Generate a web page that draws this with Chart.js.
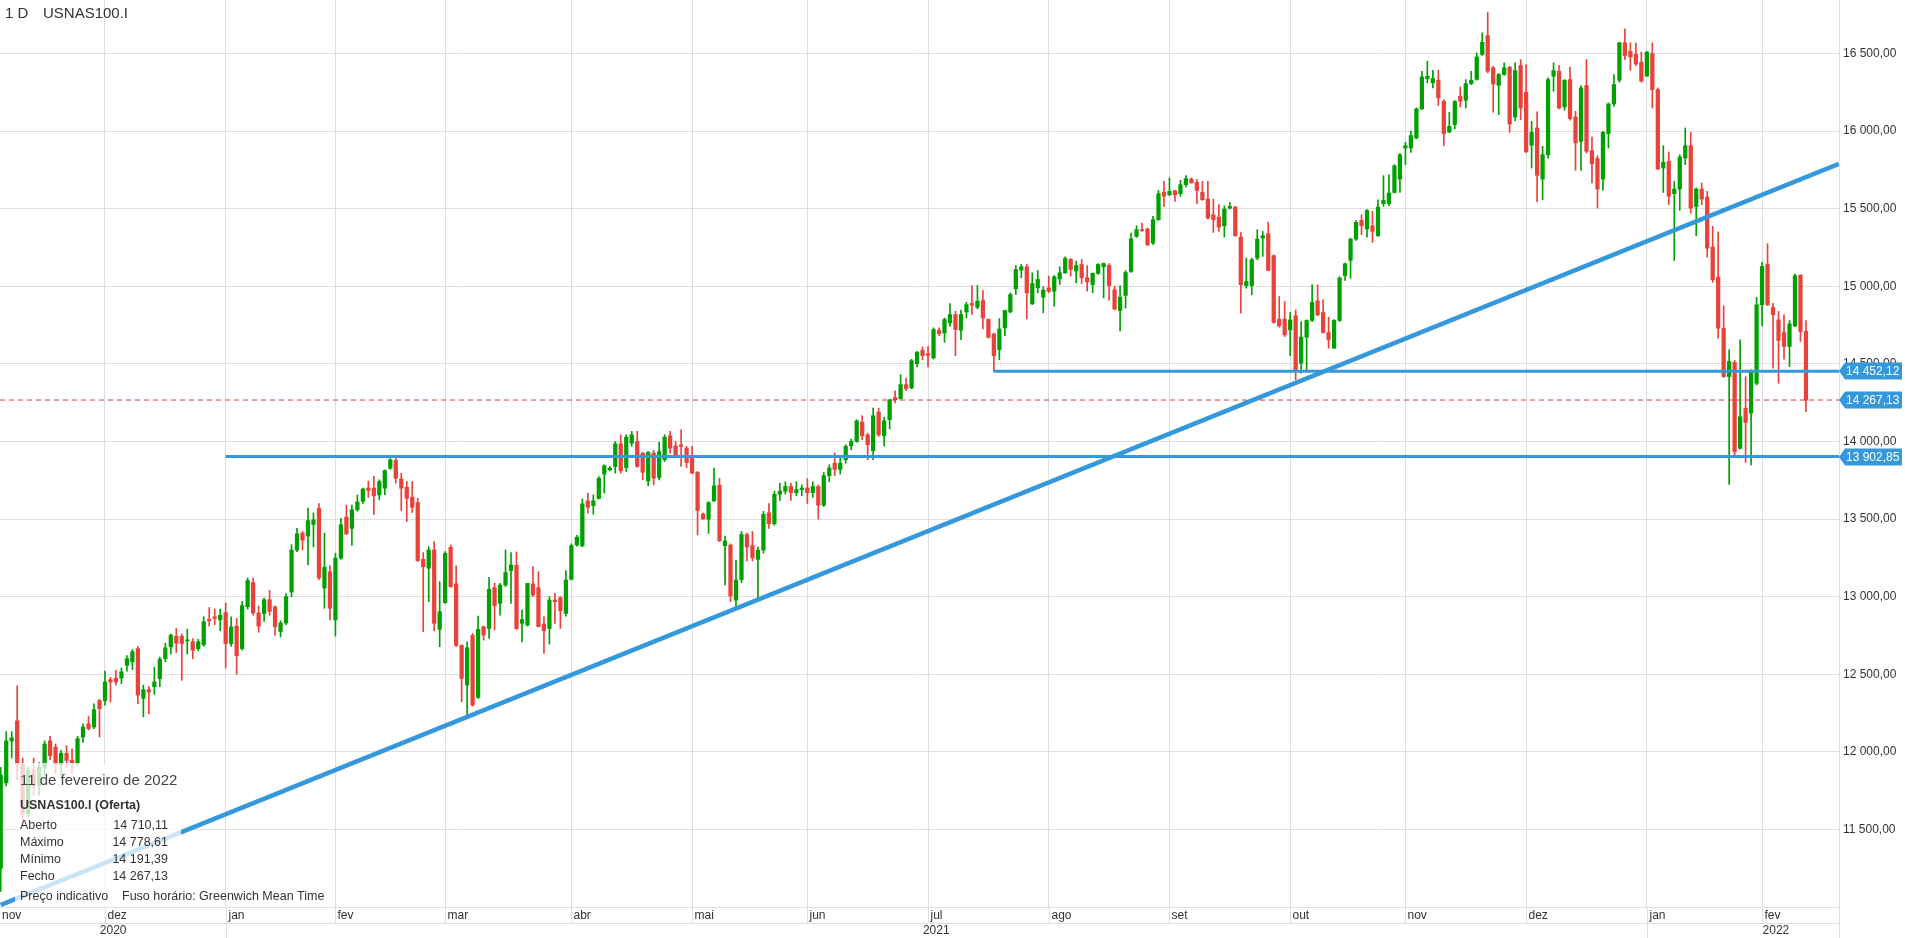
<!DOCTYPE html>
<html lang="pt">
<head>
<meta charset="UTF-8">
<title>USNAS100.I - 1 D</title>
<script src="https://cdn.jsdelivr.net/npm/chart.js"></script>
<style>
  html, body { margin: 0; padding: 0; background: #fff; overflow: hidden; }
  canvas { display: block; }
</style>
</head>
<body>
<canvas id="chart" width="1905" height="938"></canvas>
<script>
// USNAS100.I daily candles, one entry per session, 4 Nov 2020 .. 11 Feb 2022
const opens = [
  11250, 11800, 12070, 12200, 11920, 11600, 11880, 11780, 11900, 12070,
  12030, 11920, 11990, 11945, 11930, 12095, 12180, 12160, 12330, 12330,
  12465, 12475, 12475, 12558, 12580, 12665, 12345, 12400, 12420, 12472,
  12600, 12677, 12745, 12745, 12715, 12710, 12665, 12690, 12855, 12870,
  12850, 12897, 12698, 12810, 12665, 12935, 13090, 12895, 12890, 12980,
  12935, 12775, 12830, 13030, 13300, 13410, 13390, 13465, 13570, 13055,
  13160, 12850, 13248, 13513, 13440, 13560, 13615, 13700, 13700, 13656,
  13699, 13828, 13877, 13759, 13705, 13641, 13606, 13241, 13183, 13301,
  12789, 12961, 13318, 13082, 12686, 12430, 12750, 12350, 12806, 12795,
  13058, 12957, 13075, 13168, 13202, 12828, 12817, 13082, 13058, 12823,
  12795, 12978, 12993, 12892, 13112, 13333, 13327, 13617, 13587, 13632,
  13789, 13817, 13839, 13985, 13832, 13989, 14000, 13925, 13746, 13925,
  13768, 13882, 14037, 13972, 13978, 13957, 13907, 13802, 13533, 13499,
  13617, 13718, 13329, 13333, 12978, 13110, 13400, 13330, 13240, 13300,
  13540, 13470, 13660, 13680, 13710, 13670, 13690, 13700, 13670, 13710,
  13590, 13780, 13860, 13820, 13882, 13972, 14000, 14125, 14043, 13940,
  14189, 14037, 14140, 14284, 14276, 14366, 14344, 14501, 14588, 14566,
  14538, 14717, 14699, 14764, 14818, 14717, 14835, 14889, 14865, 14908,
  14786, 14693, 14592, 14732, 14835, 14984, 15104, 15126, 14887, 14990,
  14930, 14990, 14968, 15048, 15087, 15173, 15098, 15141, 15055, 15011,
  15083, 15126, 15134, 14977, 14844, 14941, 15096, 15322, 15365, 15369,
  15279, 15429, 15605, 15590, 15616, 15597, 15655, 15691, 15670, 15605,
  15562, 15461, 15446, 15390, 15504, 15511, 15317, 15005, 15005, 15182,
  15311, 15339, 15197, 14788, 14788, 14719, 14810, 14504, 14672, 14780,
  14906, 14831, 14702, 14601, 14780, 15068, 15167, 15304, 15425, 15369,
  15390, 15326, 15532, 15532, 15605, 15691, 15891, 15891, 15956, 16143,
  16337, 16311, 16328, 16192, 15994, 16042, 16225, 16199, 16306, 16333,
  16494, 16616, 16408, 16296, 16365, 16412, 16091, 16423, 16251, 15909,
  16020, 15691, 15848, 16354, 16386, 16156, 16332, 16091, 15934, 16294,
  15874, 15823, 15691, 15984, 16175, 16328, 16569, 16515, 16494, 16444,
  16354, 16500, 16268, 15762, 15805, 15597, 15627, 15827, 15906, 15515,
  15627, 15575, 15253, 15059, 14730, 14418, 14509, 13956, 14214, 14182,
  14375, 14881, 15143, 14863, 14784, 14702, 14612, 14745, 15072, 14710.11
];
const highs = [
  11900, 12130, 12130, 12425, 11960, 11900, 11960, 11930, 12070, 12100,
  12050, 12010, 12040, 12020, 12100, 12180, 12230, 12310, 12340, 12520,
  12480, 12525, 12540, 12620, 12660, 12680, 12430, 12420, 12545, 12610,
  12700, 12760, 12795, 12760, 12790, 12730, 12725, 12870, 12930, 12920,
  12920, 12960, 12870, 12860, 12970, 13120, 13120, 12940, 12990, 13040,
  12940, 12845, 13020, 13335, 13440, 13420, 13571, 13540, 13600, 13410,
  13200, 13280, 13505, 13590, 13590, 13655, 13700, 13745, 13775, 13753,
  13817, 13890, 13903, 13796, 13742, 13742, 13634, 13284, 13322, 13355,
  13097, 13290, 13333, 13198, 12690, 12709, 12763, 12875, 12810, 13125,
  13086, 13086, 13301, 13284, 13288, 12914, 13086, 13193, 13161, 12871,
  13000, 13021, 13000, 13168, 13340, 13395, 13630, 13667, 13656, 13774,
  13850, 13840, 14000, 14043, 14043, 14065, 14065, 13929, 13935, 13942,
  13994, 14043, 14065, 14000, 14075, 13968, 13968, 13806, 13538, 13613,
  13828, 13763, 13391, 13340, 13236, 13420, 13410, 13420, 13320, 13550,
  13600, 13680, 13730, 13740, 13730, 13740, 13720, 13760, 13740, 13720,
  13800, 13850, 13925, 13900, 13979, 14015, 14140, 14166, 14054, 14215,
  14215, 14157, 14273, 14327, 14430, 14409, 14530, 14581, 14609, 14613,
  14732, 14732, 14796, 14889, 14839, 14846, 14897, 15005, 15005, 14973,
  14790, 14699, 14792, 14846, 14958, 15134, 15141, 15141, 15087, 15102,
  14996, 15065, 15070, 15126, 15190, 15179, 15162, 15173, 15134, 15087,
  15147, 15150, 15147, 14999, 15003, 15102, 15343, 15390, 15407, 15375,
  15451, 15618, 15676, 15698, 15618, 15683, 15713, 15698, 15687, 15676,
  15676, 15562, 15526, 15519, 15541, 15515, 15347, 15182, 15182, 15365,
  15354, 15414, 15203, 14934, 14902, 14831, 14848, 14773, 14784, 15010,
  15010, 14913, 14801, 14785, 15063, 15150, 15311, 15425, 15461, 15494,
  15483, 15558, 15713, 15719, 15784, 15855, 15928, 16000, 16150, 16386,
  16451, 16392, 16392, 16203, 16122, 16197, 16285, 16332, 16386, 16504,
  16633, 16767, 16418, 16372, 16440, 16418, 16440, 16461, 16429, 16063,
  16124, 15902, 16343, 16440, 16423, 16332, 16412, 16128, 16294, 16461,
  15962, 15842, 15999, 16182, 16365, 16573, 16659, 16569, 16569, 16509,
  16515, 16569, 16279, 15906, 15866, 15676, 15848, 16020, 15992, 15634,
  15666, 15612, 15386, 15350, 14874, 14590, 14522, 14655, 14418, 14462,
  14928, 15154, 15274, 14891, 14838, 14816, 14780, 15081, 15075, 14778.61
];
const lows = [
  11100, 11780, 11960, 11820, 11520, 11580, 11720, 11720, 11850, 11950,
  11860, 11850, 11900, 11860, 11910, 12060, 12140, 12150, 12095, 12300,
  12320, 12430, 12440, 12520, 12530, 12310, 12225, 12245, 12370, 12420,
  12580, 12630, 12640, 12461, 12630, 12600, 12650, 12680, 12810, 12820,
  12780, 12540, 12680, 12500, 12655, 12920, 12880, 12770, 12840, 12880,
  12750, 12740, 12820, 13000, 13290, 13300, 13205, 13320, 13110, 12925,
  12850, 12746, 13240, 13400, 13330, 13550, 13600, 13640, 13530, 13624,
  13656, 13820, 13731, 13555, 13484, 13542, 13226, 12774, 12968, 12780,
  12677, 12957, 13060, 12677, 12322, 12225, 12294, 12344, 12720, 12731,
  12785, 12881, 13064, 12957, 12789, 12709, 12810, 13000, 12806, 12634,
  12694, 12828, 12795, 12875, 13107, 13325, 13322, 13538, 13531, 13630,
  13667, 13810, 13796, 13796, 13806, 13968, 13834, 13753, 13714, 13720,
  13753, 13871, 13925, 13899, 13839, 13832, 13792, 13398, 13497, 13408,
  13613, 13355, 13075, 12968, 12925, 13090, 13230, 13230, 12990, 13280,
  13440, 13460, 13620, 13660, 13620, 13650, 13650, 13600, 13640, 13500,
  13580, 13740, 13780, 13790, 13860, 13946, 13995, 14011, 13882, 13882,
  14032, 13972, 14080, 14248, 14273, 14327, 14340, 14480, 14527, 14480,
  14532, 14682, 14639, 14742, 14553, 14656, 14796, 14818, 14854, 14725,
  14667, 14452, 14527, 14682, 14829, 14947, 15055, 14790, 14882, 14958,
  14829, 14958, 14872, 15011, 15083, 15065, 15022, 15018, 14968, 14958,
  15076, 14925, 14910, 14848, 14713, 14859, 15090, 15315, 15354, 15261,
  15268, 15425, 15515, 15584, 15547, 15580, 15640, 15666, 15532, 15554,
  15433, 15347, 15354, 15317, 15498, 15322, 14827, 14988, 14945, 15171,
  15193, 15102, 14762, 14737, 14676, 14552, 14397, 14440, 14450, 14773,
  14810, 14698, 14601, 14601, 14773, 15038, 15053, 15296, 15332, 15317,
  15283, 15322, 15515, 15519, 15601, 15605, 15784, 15863, 15950, 16140,
  16310, 16278, 16165, 15906, 15990, 16014, 16156, 16149, 16300, 16328,
  16487, 16375, 16122, 16106, 16360, 15992, 16068, 16074, 15862, 15762,
  15543, 15558, 15826, 16257, 16143, 16135, 16070, 15747, 15747, 15859,
  15666, 15504, 15618, 15891, 16160, 16315, 16461, 16392, 16422, 16315,
  16354, 16149, 15752, 15605, 15526, 15167, 15489, 15784, 15472, 15326,
  15526, 15188, 15025, 14666, 14413, 13724, 13913, 13950, 13864, 13849,
  14364, 14745, 14875, 14472, 14375, 14530, 14483, 14740, 14644, 14191.39
];
const closes = [
  11850, 12070, 12090, 11920, 11600, 11880, 11780, 11900, 12050, 11975,
  11920, 11990, 11945, 11930, 12085, 12160, 12150, 12272, 12278, 12450,
  12450, 12450, 12515, 12600, 12645, 12365, 12400, 12385, 12450, 12597,
  12670, 12752, 12700, 12698, 12720, 12655, 12710, 12838, 12845, 12860,
  12880, 12698, 12805, 12620, 12942, 13104, 12895, 12810, 12980, 12905,
  12806, 12830, 13000, 13300, 13405, 13365, 13490, 13495, 13120, 13190,
  12925, 13248, 13463, 13405, 13560, 13610, 13694, 13685, 13650, 13742,
  13813, 13882, 13763, 13699, 13634, 13576, 13232, 13193, 13301, 12828,
  12903, 13279, 13064, 12686, 12473, 12671, 12301, 12789, 12752, 13047,
  12942, 13075, 13155, 13204, 12793, 12853, 13086, 13011, 12806, 12780,
  12978, 12968, 12909, 13107, 13329, 13383, 13598, 13576, 13617, 13763,
  13843, 13828, 13985, 13811, 14028, 14043, 13839, 13802, 13931, 13763,
  13935, 14028, 13957, 13903, 13968, 13864, 13796, 13555, 13501, 13606,
  13714, 13361, 13359, 13004, 13107, 13400, 13320, 13250, 13300, 13530,
  13470, 13660, 13680, 13710, 13670, 13690, 13700, 13670, 13710, 13590,
  13780, 13830, 13820, 13860, 13968, 14000, 14133, 14037, 13979, 14166,
  14043, 14133, 14269, 14269, 14366, 14340, 14521, 14575, 14553, 14555,
  14721, 14695, 14786, 14818, 14721, 14818, 14882, 14878, 14904, 14796,
  14671, 14553, 14725, 14844, 14947, 15108, 15126, 14958, 15018, 15044,
  14975, 14968, 15061, 15087, 15179, 15108, 15134, 15055, 15029, 15083,
  15141, 15147, 15005, 14853, 14930, 15089, 15306, 15365, 15358, 15268,
  15429, 15597, 15580, 15612, 15590, 15655, 15694, 15666, 15618, 15558,
  15440, 15429, 15382, 15498, 15515, 15326, 15010, 15031, 15171, 15304,
  15326, 15102, 14767, 14745, 14687, 14784, 14461, 14672, 14780, 14896,
  14816, 14702, 14655, 14780, 15053, 15145, 15304, 15412, 15390, 15489,
  15354, 15511, 15554, 15601, 15777, 15848, 15906, 15971, 16143, 16349,
  16354, 16339, 16214, 15984, 16031, 16192, 16192, 16306, 16328, 16478,
  16573, 16386, 16304, 16365, 16408, 16046, 16390, 16149, 15866, 15992,
  15715, 15848, 16332, 16390, 16149, 16328, 16081, 15924, 16278, 15870,
  15790, 15627, 15992, 16175, 16300, 16569, 16487, 16478, 16433, 16322,
  16509, 16268, 15756, 15799, 15580, 15627, 15833, 15906, 15504, 15627,
  15562, 15246, 15042, 14730, 14418, 14515, 13934, 14160, 14122, 14451,
  14881, 15128, 14881, 14816, 14651, 14612, 14758, 15068, 14709, 14267.13
];

// first session of each month (index into the arrays) and the axis labels
const monthStarts = [0, 19, 41, 61, 81, 104, 126, 147, 169, 191, 213, 235, 256, 278, 300, 321];
const monthNames = ['nov', 'dez', 'jan', 'fev', 'mar', 'abr', 'mai', 'jun', 'jul', 'ago', 'set', 'out', 'nov', 'dez', 'jan', 'fev'];
const yearStarts = [0, 41, 300];
const yearNames = ['2020', '2021', '2022'];

const yTicks = [11500, 12000, 12500, 13000, 13500, 14000, 14500, 15000, 15500, 16000, 16500];

// drawn lines: two supports (value, first session) and the rising trend line
const supportLevels = [13902.85, 14452.12];
const supportFrom = [41, 181];
const trendLine = [{ x: 0, y: 11013 }, { x: 335, y: 15789 }];

const FONT = '"Liberation Sans", Arial, sans-serif';
const UP = '#00a000';
const DOWN = '#e8423b';
const BLUE = '#3498db';
const GRID = '#dedede';
const TEXT = '#333333';
const X_MIN = -0.13, X_MAX = 335.02;

Chart.defaults.font.family = FONT;

function fmt(v) {
  const [i, d] = v.toFixed(2).split('.');
  return i.replace(/\B(?=(\d{3})+(?!\d))/g, ' ') + ',' + d;
}

const lastIdx = closes.length - 1;
const lastClose = closes[lastIdx];
const colors = opens.map((o, i) => closes[i] >= o ? UP : DOWN);
const bodies = opens.map((o, i) => ({ x: i, y: [Math.min(o, closes[i]), Math.max(o, closes[i])] }));
const wicks = lows.map((l, i) => ({ x: i, y: [l, highs[i]] }));

const hLine = (from, v) => [{ x: from, y: v }, { x: X_MAX, y: v }];

const overlay = {
  id: 'overlay',
  afterDatasetsDraw(chart) {
    const { ctx } = chart;
    ctx.save();
    // quote panel bottom-left
    ctx.fillStyle = 'rgba(255,255,255,0.75)';
    ctx.fillRect(15, 763, 166, 144);
    ctx.textBaseline = 'middle';
    ctx.textAlign = 'left';
    ctx.fillStyle = '#444';
    ctx.font = '15px ' + FONT;
    ctx.fillText('11 de fevereiro de 2022', 20, 781);
    ctx.fillStyle = TEXT;
    ctx.font = 'bold 12.5px ' + FONT;
    ctx.fillText('USNAS100.I (Oferta)', 20, 806);
    ctx.font = '12.5px ' + FONT;
    const rows = [['Aberto', opens], ['Máximo', highs], ['Mínimo', lows], ['Fecho', closes]];
    rows.forEach(([name, arr], k) => {
      const yy = 826 + k * 16.8;
      ctx.textAlign = 'left';
      ctx.fillText(name, 20, yy);
      ctx.textAlign = 'right';
      ctx.fillText(fmt(arr[lastIdx]), 168, yy);
    });
    ctx.textAlign = 'left';
    ctx.fillText('Preço indicativo', 20, 897);
    ctx.fillText('Fuso horário: Greenwich Mean Time', 122, 897);
    ctx.restore();
  },
  afterDraw(chart) {
    const { ctx, chartArea: a, scales: { x, y } } = chart;
    const W = chart.width, H = chart.height;
    const rowY = a.bottom + 16;
    const px = v => Math.round(x.getPixelForValue(v)) + 0.5;
    ctx.save();

    // month / year rows under the plot
    ctx.strokeStyle = GRID;
    ctx.lineWidth = 1;
    ctx.beginPath();
    ctx.moveTo(0, rowY + 0.5);
    ctx.lineTo(a.right, rowY + 0.5);
    monthStarts.slice(1).forEach(m => { ctx.moveTo(px(m), a.bottom); ctx.lineTo(px(m), rowY); });
    yearStarts.slice(1).forEach(m => { ctx.moveTo(px(m), rowY); ctx.lineTo(px(m), H); });
    ctx.moveTo(Math.round(a.right) + 0.5, a.bottom);
    ctx.lineTo(Math.round(a.right) + 0.5, H);
    ctx.stroke();

    ctx.fillStyle = TEXT;
    ctx.font = '12px ' + FONT;
    ctx.textBaseline = 'middle';
    ctx.textAlign = 'left';
    monthStarts.forEach((m, k) => {
      const xx = k === 0 ? a.left + 2 : px(m) + 2;
      ctx.fillText(monthNames[k], xx, a.bottom + 8.5);
    });
    ctx.textAlign = 'center';
    yearStarts.forEach((s, k) => {
      const x0 = Math.max(a.left, x.getPixelForValue(s));
      const x1 = k + 1 < yearStarts.length ? x.getPixelForValue(yearStarts[k + 1]) : W;
      ctx.fillText(yearNames[k], (x0 + x1) / 2, rowY + 8);
    });

    // price tags on the right axis
    const tag = v => {
      const yy = Math.round(y.getPixelForValue(v));
      ctx.fillStyle = BLUE;
      ctx.beginPath();
      ctx.moveTo(a.right, yy);
      ctx.lineTo(a.right + 6, yy - 8.5);
      ctx.lineTo(W - 3, yy - 8.5);
      ctx.lineTo(W - 3, yy + 8.5);
      ctx.lineTo(a.right + 6, yy + 8.5);
      ctx.closePath();
      ctx.fill();
      ctx.fillStyle = '#fff';
      ctx.font = '12px ' + FONT;
      ctx.textAlign = 'left';
      ctx.fillText(fmt(v), a.right + 7, yy + 0.5);
    };
    supportLevels.forEach(tag);
    tag(lastClose);

    // title
    ctx.fillStyle = TEXT;
    ctx.font = '15px ' + FONT;
    ctx.textAlign = 'left';
    ctx.fillText('1 D', 5, 14);
    ctx.fillText('USNAS100.I', 43, 14);
    ctx.restore();
  }
};

new Chart(document.getElementById('chart'), {
  type: 'bar',
  data: {
    datasets: [
      { type: 'line', data: trendLine, borderColor: BLUE, borderWidth: 4.5, pointRadius: 0, order: 0 },
      { type: 'line', data: hLine(supportFrom[0], supportLevels[0]), borderColor: BLUE, borderWidth: 3, pointRadius: 0, order: 0 },
      { type: 'line', data: hLine(supportFrom[1], supportLevels[1]), borderColor: BLUE, borderWidth: 3, pointRadius: 0, order: 0 },
      { type: 'line', data: hLine(X_MIN, lastClose), borderColor: '#e53935', borderWidth: 1, borderDash: [5, 4], pointRadius: 0, order: 0 },
      { label: 'corpo', data: bodies, backgroundColor: colors, barThickness: 3.6, minBarLength: 1, grouped: false, order: 1 },
      { label: 'sombra', data: wicks, backgroundColor: colors, barThickness: 1, grouped: false, order: 2 }
    ]
  },
  options: {
    responsive: false,
    animation: false,
    events: [],
    layout: { padding: { left: 0, right: 0, top: 0, bottom: 31 } },
    plugins: { legend: { display: false }, tooltip: { enabled: false } },
    scales: {
      x: {
        type: 'linear', min: X_MIN, max: X_MAX, offset: false,
        afterBuildTicks: ax => { ax.ticks = monthStarts.slice(1).map(v => ({ value: v })); },
        afterFit: ax => { ax.height = 0; ax.paddingLeft = 0; ax.paddingRight = 0; },
        ticks: { display: false, autoSkip: false },
        grid: { color: GRID, drawTicks: false, offset: false },
        border: { display: true, color: GRID }
      },
      y: {
        type: 'linear', position: 'right', min: 11000, max: 16845,
        afterBuildTicks: ax => { ax.ticks = yTicks.map(v => ({ value: v })); },
        afterFit: ax => { ax.width = 66; ax.paddingTop = 0; ax.paddingBottom = 0; },
        ticks: { callback: v => fmt(v), padding: 4, color: TEXT, font: { size: 12 } },
        grid: { color: GRID, drawTicks: false },
        border: { display: true, color: GRID }
      }
    }
  },
  plugins: [overlay]
});
</script>
</body>
</html>
